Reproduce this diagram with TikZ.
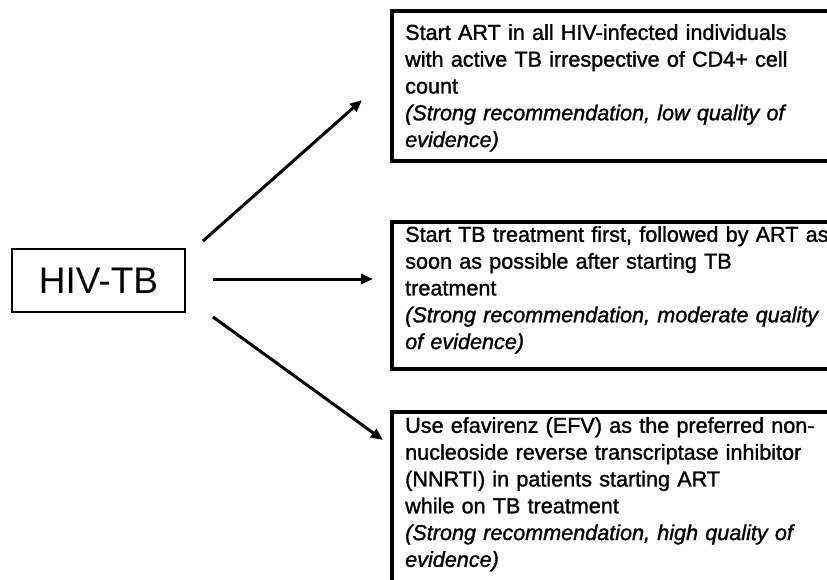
\documentclass[tikz,border=0pt]{standalone}
\usepackage{fontspec}
\setmainfont{Liberation Sans}
\newfontfamily\heavy{Liberation Sans}[FakeBold=1.3, ItalicFeatures={FakeBold=1.3}]
\usetikzlibrary{arrows.meta}
\begin{document}
\begin{tikzpicture}[x=1pt,y=-1pt,
  frame/.style={draw, line width=3.2pt, anchor=north west, inner sep=0pt, outer sep=0pt},
  txt/.style={anchor=north west, inner sep=0pt, align=left, text width=440pt,
    font=\heavy\fontsize{21.6}{26.8}\selectfont},
  arr/.style={line width=3pt, -{Triangle[length=12pt,width=10pt]}}
]
\useasboundingbox (0,0) rectangle (827,580);
\clip (0,0) rectangle (827,580);
\fill[white] (0,0) rectangle (827,580);

% source box
\node[draw, line width=2.2pt, minimum width=173pt, minimum height=63pt, inner sep=0pt,
  font=\fontsize{37}{40}\selectfont] (hiv) at (98.5,280.5) {HIV-TB};

% recommendation boxes
\node[frame, minimum width=520pt, minimum height=150pt] (b1) at (392,11) {};
\node[frame, minimum width=520pt, minimum height=147pt] (b2) at (392,222) {};
\node[frame, minimum width=520pt, minimum height=220pt] (b3) at (392,412) {};

\node[txt] (t1) at (405,24) {Start ART in all HIV-infected individuals\\
with active TB irrespective of CD4+ cell\\
count\\
\textit{(Strong recommendation, low quality of}\\
\textit{evidence)}};

\node[txt] (t2) at (405,226) {Start TB treatment first, followed by ART as\\
soon as possible after starting TB\\
treatment\\
\textit{(Strong recommendation, moderate quality}\\
\textit{of evidence)}};

\node[txt] (t3) at (405,417) {Use efavirenz (EFV) as the preferred non-\\
nucleoside reverse transcriptase inhibitor\\
(NNRTI) in patients starting ART\\
while on TB treatment\\
\textit{(Strong recommendation, high quality of}\\
\textit{evidence)}};

% connectors
\coordinate (s1) at (203,241);
\coordinate (e1) at (362,100);
\coordinate (s2) at (213,279);
\coordinate (e2) at (373,279);
\coordinate (s3) at (213,317);
\coordinate (e3) at (383,440);
\draw[arr] (s1) -- (e1);
\draw[arr] (s2) -- (e2);
\draw[arr] (s3) -- (e3);
\end{tikzpicture}
\end{document}
